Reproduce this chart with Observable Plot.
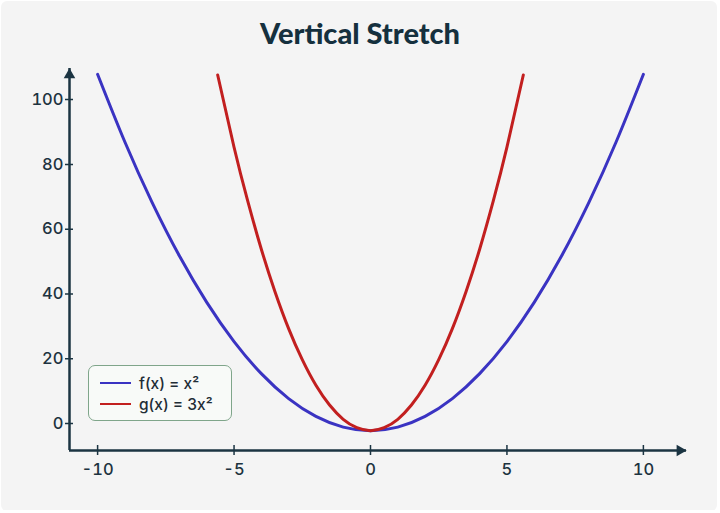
<!DOCTYPE html>
<html>
<head>
<meta charset="utf-8">
<script src="https://cdn.jsdelivr.net/npm/d3@7"></script>
<script src="https://cdn.jsdelivr.net/npm/@observablehq/plot@0.6"></script>
<style>
  html, body { margin: 0; padding: 0; background: #ffffff; }
  #card {
    position: relative; left: 1px; top: 1px; width: 716px; height: 510px;
    background: #f4f4f4; border-radius: 6px; overflow: hidden;
  }
  #wrap { position: absolute; left: -1px; top: -1px; width: 720px; height: 513px; }
  #title {
    height: 56px; line-height: 66px; text-align: center;
    font-family: Lato, "Noto Sans", sans-serif; font-weight: 900; font-size: 29px;
    color: #15303e;
  }
  #legend {
    position: absolute; left: 88px; top: 365px; width: 142px; height: 54px;
    border: 1.5px solid #7fa58a; border-radius: 7px; background: #f8faf8;
    font-family: Inter, "Noto Sans", sans-serif; font-weight: 500; font-size: 15.5px; color: #1f2d36;
  }
  .row { position: absolute; left: 11px; height: 20px; display: flex; align-items: center; }
  .sw { width: 31px; height: 0; border-top: 2.5px solid; margin-right: 8px; }
  svg { display: block; }
</style>
</head>
<body>
<div id="card"><div id="wrap">
  <div id="title">Vertical Stretch</div>
  <div id="chart"></div>
  <div id="legend"></div>
</div></div>
<script>
// f(x) = x² (blue)
const fX = [-10,-9,-8,-7,-6,-5,-4,-3,-2,-1,0,1,2,3,4,5,6,7,8,9,10];
const fY = [107.8,86.9,68.2,51.7,37.4,25.3,15.4,7.7,2.2,-1.1,-2.2,-1.1,2.2,7.7,15.4,25.3,37.4,51.7,68.2,86.9,107.8];
// g(x) = 3x² (red)
const gX = [-5.6,-5,-4.5,-4,-3.5,-3,-2.5,-2,-1.5,-1,-0.5,0,0.5,1,1.5,2,2.5,3,3.5,4,4.5,5,5.6];
const gY = [107.6,85.3,68.7,53.8,40.7,29.3,19.7,11.8,5.7,1.3,-1.3,-2.2,-1.3,1.3,5.7,11.8,19.7,29.3,40.7,53.8,68.7,85.3,107.6];
const xTicks = [-10, -5, 0, 5, 10];
const yTicks = [0, 20, 40, 60, 80, 100];
const seriesNames = ["f(x) = x²", "g(x) = 3x²"];
const seriesColors = ["#3a33c2", "#c21f1f"];
const xDomain = [-11.03, 11.58];
const yDomain = [-8.33, 109.6];

const fData = fX.map((x, i) => ({x, y: fY[i]}));
const gData = gX.map((x, i) => ({x, y: gY[i]}));
const axisColor = "#1b3442";

const chart = Plot.plot({
  width: 720, height: 457,
  marginLeft: 69, marginRight: 34, marginTop: 12, marginBottom: 63,
  style: {background: "transparent", fontFamily: "Inter, 'Noto Sans', sans-serif", fontSize: "16.5px", fontWeight: 500, color: "#1d3340"},
  x: {domain: xDomain},
  y: {domain: yDomain},
  marks: [
    Plot.ruleY([yDomain[0]], {x1: xDomain[0], x2: xDomain[1], stroke: axisColor, strokeWidth: 2.5}),
    Plot.ruleX([xDomain[0]], {y1: yDomain[0], y2: yDomain[1], stroke: axisColor, strokeWidth: 2.5}),
    Plot.ruleX(xTicks, {x: d => d, y1: yDomain[0], y2: yDomain[0], insetTop: -5, insetBottom: -5, stroke: axisColor, strokeWidth: 1.5}),
    Plot.ruleY(yTicks, {y: d => d, x1: xDomain[0], x2: xDomain[0], insetLeft: -4, insetRight: -4, stroke: axisColor, strokeWidth: 1.5}),
    Plot.dot([0], {x: xDomain[1], y: yDomain[0], symbol: "triangle", rotate: 90, r: 4.3, dx: -6.5, fill: axisColor, stroke: null}),
    Plot.dot([0], {x: xDomain[0], y: yDomain[1], symbol: "triangle", rotate: 0, r: 4.3, dy: 6.5, fill: axisColor, stroke: null}),
    Plot.axisX(xTicks, {tickSize: 0, tickPadding: 13, label: null, fontSize: 16.5, tickFormat: d => String(d)}),
    Plot.axisY(yTicks, {tickSize: 0, tickPadding: 6, label: null, fontSize: 16.5, tickFormat: d => String(d)}),
    Plot.line(fData, {x: "x", y: "y", curve: "natural", stroke: seriesColors[0], strokeWidth: 3}),
    Plot.line(gData, {x: "x", y: "y", curve: "natural", stroke: seriesColors[1], strokeWidth: 3})
  ]
});
document.getElementById("chart").appendChild(chart);

const legend = document.getElementById("legend");
seriesNames.forEach((name, i) => {
  const row = document.createElement("div");
  row.className = "row";
  row.style.top = (7 + i * 21) + "px";
  const sw = document.createElement("span");
  sw.className = "sw";
  sw.style.borderColor = seriesColors[i];
  const t = document.createElement("span");
  t.textContent = name;
  row.appendChild(sw); row.appendChild(t);
  legend.appendChild(row);
});
</script>
</body>
</html>
